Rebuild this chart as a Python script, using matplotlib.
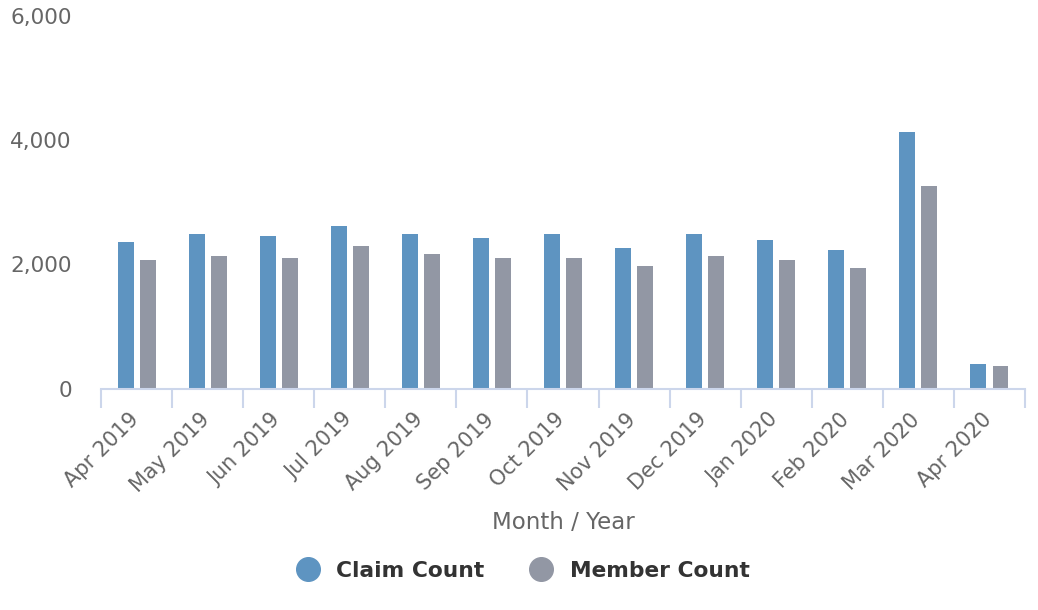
import numpy as np
import matplotlib.pyplot as plt
from matplotlib.lines import Line2D

# data
months = ['Apr 2019', 'May 2019', 'Jun 2019', 'Jul 2019', 'Aug 2019', 'Sep 2019',
          'Oct 2019', 'Nov 2019', 'Dec 2019', 'Jan 2020', 'Feb 2020', 'Mar 2020', 'Apr 2020']
claim_count = [2356, 2485, 2453, 2614, 2485, 2420, 2485, 2260, 2485, 2388, 2227, 4127, 393]
member_count = [2066, 2131, 2098, 2292, 2163, 2098, 2098, 1970, 2131, 2066, 1938, 3258, 361]

claim_color = '#5e94c1'
member_color = '#9297a4'
axis_color = '#ccd6eb'
text_color = '#666666'

plt.rcParams['font.family'] = ['DejaVu Sans']

fig = plt.figure(figsize=(10.38, 6.10), dpi=100)
ax = fig.add_axes([0.0973, 0.3631, 0.8902, 0.6109])

x = np.arange(len(months))
w = 0.225
ax.bar(x - 0.155, claim_count, width=w, color=claim_color)
ax.bar(x + 0.155, member_count, width=w, color=member_color)

ax.set_xlim(-0.5, len(months) - 0.5)
ax.set_ylim(0, 6000)

# y axis: labels only
ax.set_yticks([0, 2000, 4000, 6000])
ax.set_yticklabels(['0', '2,000', '4,000', '6,000'])
ax.tick_params(axis='y', length=0, pad=21, labelsize=15.5, labelcolor=text_color)

# x axis: boundary ticks, rotated labels at centres
for s in ['top', 'right', 'left']:
    ax.spines[s].set_visible(False)
ax.spines['bottom'].set_color(axis_color)
ax.spines['bottom'].set_linewidth(1.5)
ax.set_xticks(np.arange(len(months) + 1) - 0.5, minor=False)
ax.set_xticklabels([])
ax.tick_params(axis='x', which='major', length=13.5, width=1.5, color=axis_color)
for i, m in enumerate(months):
    ax.annotate(m, xy=(i, 0), xycoords=('data', 'axes fraction'),
                xytext=(-6, -15), textcoords='offset points',
                rotation=45, ha='right', va='top', rotation_mode='anchor',
                fontsize=15, color=text_color)

fig.text(0.5425, 0.143, 'Month / Year', ha='center', va='center',
         fontsize=16.5, color=text_color)

handles = [Line2D([], [], marker='o', linestyle='', markersize=17, color=claim_color),
           Line2D([], [], marker='o', linestyle='', markersize=17, color=member_color)]
fig.legend(handles, ['Claim Count', 'Member Count'], loc='center',
           bbox_to_anchor=(0.499, 0.064), ncol=2, frameon=False,
           prop={'weight': 'bold', 'size': 15.7}, labelcolor='#333333',
           handletextpad=0.3, columnspacing=1.6)

fig.savefig('out.png', dpi=100)
